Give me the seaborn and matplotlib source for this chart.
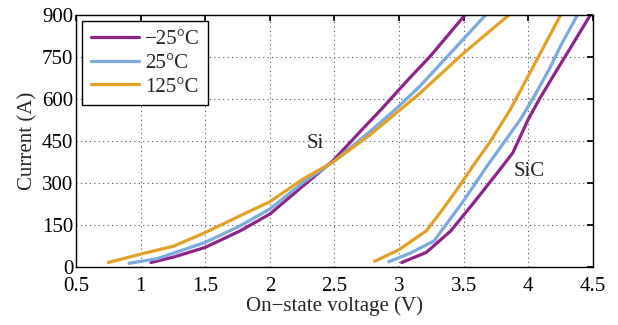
import pandas as pd
import numpy as np
import seaborn as sns
import matplotlib.pyplot as plt

temps = ["\u221225\u00b0C", "25\u00b0C", "125\u00b0C"]
colors = ["#8C2489", "#7AAADF", "#E2A126"]

# Si curves: (voltage, current)
si_v = {
    temps[0]: [1.08, 1.26, 1.50, 1.77, 2.00, 2.26, 2.49, 2.72, 2.86, 3.08, 3.24, 3.51],
    temps[1]: [0.91, 1.13, 1.50, 1.77, 2.00, 2.26, 2.49, 2.77, 2.97, 3.16, 3.34, 3.67],
    temps[2]: [0.75, 1.00, 1.26, 1.50, 1.77, 2.00, 2.26, 2.49, 2.77, 3.01, 3.16, 3.50, 3.85],
}
si_i = {
    temps[0]: [16, 36, 70, 129, 189, 291, 380, 494, 562, 674, 752, 900],
    temps[1]: [13, 30, 88, 147, 207, 303, 375, 482, 562, 645, 735, 900],
    temps[2]: [16, 46, 75, 123, 183, 233, 315, 375, 470, 562, 620, 764, 900],
}
# SiC curves
sic_v = {
    temps[0]: [3.02, 3.21, 3.40, 3.58, 3.78, 3.88, 4.00, 4.08, 4.19, 4.32, 4.48],
    temps[1]: [2.92, 3.08, 3.27, 3.50, 3.68, 3.81, 3.94, 4.04, 4.16, 4.25, 4.38],
    temps[2]: [2.81, 3.00, 3.21, 3.32, 3.47, 3.57, 3.70, 3.86, 3.94, 4.03, 4.12, 4.25],
}
sic_i = {
    temps[0]: [16, 52, 129, 231, 348, 408, 528, 595, 680, 778, 900],
    temps[1]: [19, 48, 93, 237, 360, 444, 528, 605, 705, 790, 900],
    temps[2]: [20, 62, 129, 195, 291, 360, 444, 562, 631, 709, 787, 900],
}

rows = []
for t in temps:
    for v, i in zip(si_v[t], si_i[t]):
        rows.append(("Si", t, v, i))
    for v, i in zip(sic_v[t], sic_i[t]):
        rows.append(("SiC", t, v, i))
df = pd.DataFrame(rows, columns=["device", "temp", "voltage", "current"])

sns.set_theme(style="white")
plt.rcParams["font.family"] = "serif"
plt.rcParams["font.serif"] = ["Liberation Serif", "DejaVu Serif"]

fig = plt.figure(figsize=(6.18, 3.25), dpi=100)
ax = fig.add_axes([0.123, 0.1785, 0.8365, 0.7755])

pal = dict(zip(temps, colors))
for dev in ["Si", "SiC"]:
    sub = df[df.device == dev]
    sns.lineplot(data=sub, x="voltage", y="current", hue="temp", palette=pal,
                 hue_order=temps, sort=False, estimator=None, lw=2.3,
                 legend=(dev == "Si"), ax=ax)

ax.set_xlim(0.5, 4.5)
ax.set_ylim(0, 900)
ax.set_xticks(np.arange(0.5, 4.51, 0.5))
ax.set_xticklabels(["0.5", "1", "1.5", "2", "2.5", "3", "3.5", "4", "4.5"])
ax.set_yticks(np.arange(0, 901, 150))
ax.grid(True, ls=(0, (1, 3)), color="#555555", lw=0.8)
ax.tick_params(direction="in", length=4, top=True, right=True, labelsize=15,
               colors="black", pad=2)
ax.tick_params(axis="x", pad=7.5)
for s in ax.spines.values():
    s.set_color("black")
    s.set_linewidth(1.0)
ax.set_xlabel("On\u2212state voltage (V)", fontsize=15, labelpad=0)
ax.set_ylabel("Current (A)", fontsize=15, labelpad=3)

ax.text(2.35, 440, "Si", fontsize=15, ha="center", va="center")
ax.text(4.01, 340, "SiC", fontsize=15, ha="center", va="center")

leg = ax.legend(loc="upper left", fontsize=15, frameon=True, fancybox=False,
                edgecolor="black", framealpha=1, handlelength=2.3,
                handletextpad=0.3, borderpad=0.4, borderaxespad=0.3,
                labelspacing=0.2, title=None)
leg.get_frame().set_linewidth(1.0)

fig.savefig("out.png", dpi=100)
